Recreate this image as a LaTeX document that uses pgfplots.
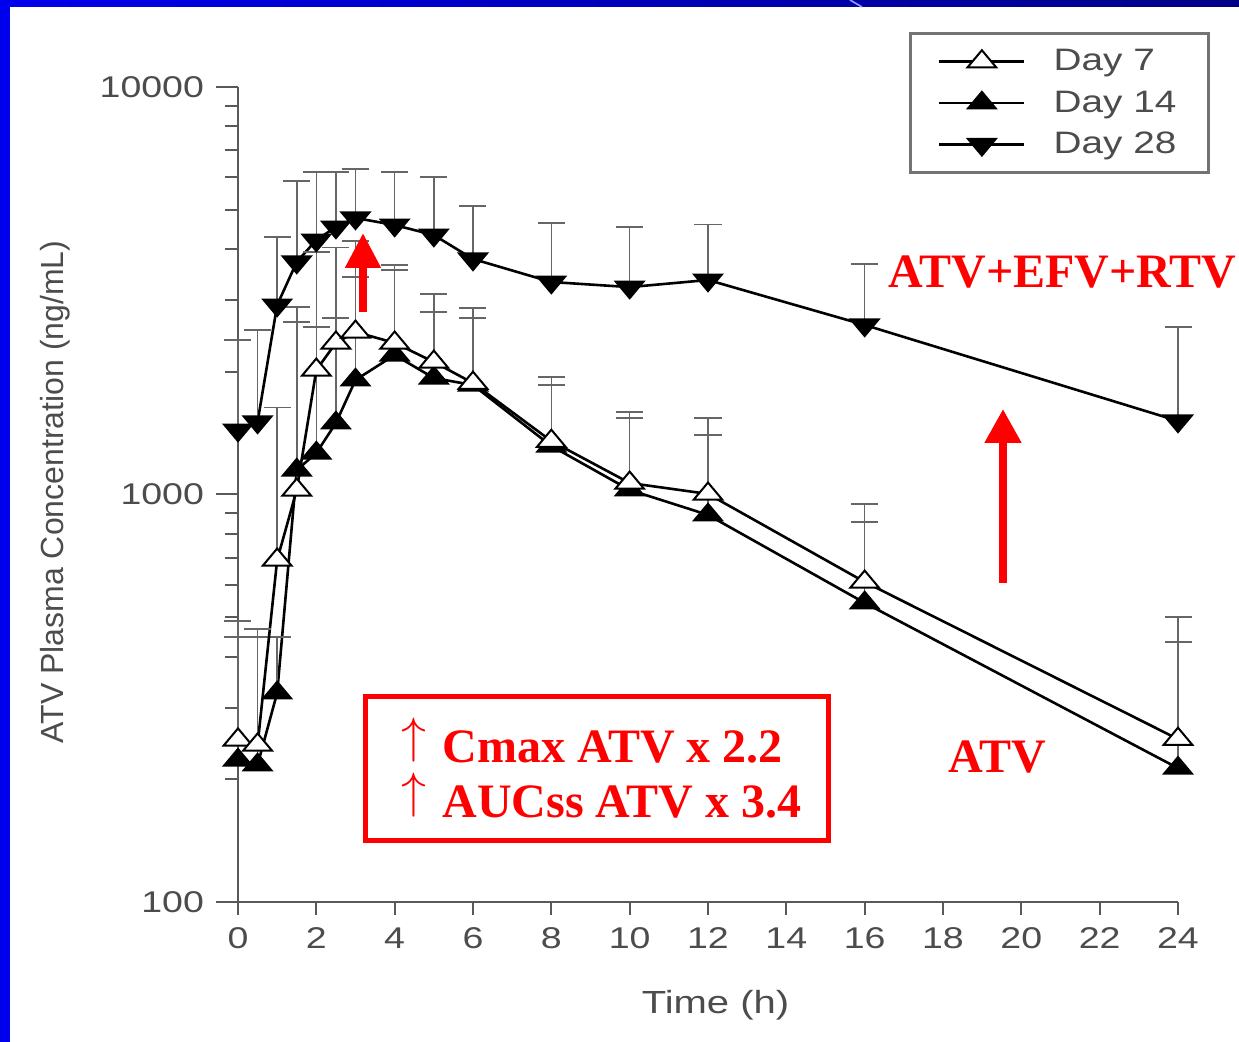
\documentclass[border=0pt]{standalone}
\usepackage{pgfplots}
\pgfplotsset{compat=1.18}
\usepackage{pgfplotstable}
\usepackage{graphicx}
\usepackage{fontspec}
\setmainfont{Liberation Sans}
\newfontfamily\tnr{Liberation Serif}
\usetikzlibrary{arrows.meta}
\newcommand\hs[1]{\scalebox{1.25}[1]{#1}}
\definecolor{slideblue}{RGB}{0,0,238}
\definecolor{slidenavy}{RGB}{0,0,135}

\pgfplotstableread{
t y e
0 250 240
0.5 243 225
1 691 943
1.5 1026 1858
2 2021 1916
2.5 2355 1679
3 2505 1685
4 2355 1302
5 2114 990
6 1877 992
8 1352 589
10 1067 527
12 1003 538
16 610 338
24 251 249
}\daysev

\pgfplotstableread{
t y e
0 223 224
0.5 217 230
1 326 121
1.5 1148 1502
2 1264 1312
2.5 1498 1214
3 1910 1509
4 2199 1358
5 1931 873
6 1856 856
8 1315 543
10 1026 515
12 891 509
16 542 314
24 213 222
}\dayfourteen

\pgfplotstableread{
t y e
0 1439 954
0.5 1507 1026
1 2917 1368
1.5 3721 2153
2 4212 1972
2.5 4532 1652
3 4770 1526
4 4584 1600
5 4331 1679
6 3784 1321
8 3322 1317
10 3228 1304
12 3360 1240
16 2606 1074
24 1515 1062
}\daytwentyeight

\begin{document}
\begin{tikzpicture}
\path[use as bounding box] (0pt,0pt) rectangle (619.5pt,521pt);
\fill[slideblue] (0pt,0pt) rectangle (5pt,521pt);
\shade[left color=slideblue, right color=slidenavy] (0pt,517.5pt) rectangle (619.5pt,521pt);
\draw[line width=0.8pt, blue!40] (425pt,521pt) -- (431pt,517.5pt);
\begin{axis}[
  at={(119pt,70pt)}, anchor=south west,
  scale only axis, width=470pt, height=407.5pt,
  ymode=log, xmin=0, xmax=24, ymin=100, ymax=10000,
  axis lines=left,
  axis line style={-, draw=black!65, line width=1.1pt},
  tick align=outside,
  major tick length=6.5pt, minor tick length=6.5pt,
  tick style={draw=black!65, line width=1pt},
  xtick={0,2,4,6,8,10,12,14,16,18,20,22,24},
  xticklabels={\hs{0},\hs{2},\hs{4},\hs{6},\hs{8},\hs{10},\hs{12},\hs{14},\hs{16},\hs{18},\hs{20},\hs{22},\hs{24}},
  ytick={100,1000,10000},
  yticklabels={\hs{100},\hs{1000},\hs{10000}},
  extra y ticks={100,1000,10000},
  extra y tick labels={},
  extra y tick style={major tick length=11pt},
  ticklabel style={font=\fontsize{15}{18}\selectfont, text=black!70},
  yticklabel style={xshift=-7pt},
  xticklabel style={yshift=-3pt},
  xlabel={\hs{Time (h)}},
  xlabel style={at={(axis description cs:0.508,-0.1264)}, anchor=center, font=\fontsize{16}{19}\selectfont, text=black!70},
  ylabel={ATV Plasma Concentration (ng/mL)},
  ylabel style={at={(axis description cs:-0.1947,0.503)}, anchor=center, font=\fontsize{16}{19}\selectfont, text=black!70},
  clip=false,
  reverse legend,
  legend style={at={(1.034,1.0675)}, anchor=north east, draw=black!55, line width=1.5pt,
    font=\fontsize{15.5}{18}\selectfont, text=black!70, inner xsep=14pt, inner ysep=6pt,
    row sep=4.5pt, cells={anchor=west},
    /tikz/every odd column/.append style={column sep=12pt}},
  legend image code/.code={\draw[mark repeat=2, mark phase=2, #1] plot coordinates {(0pt,0pt) (21.25pt,0pt) (42.5pt,0pt)};},
  error bars/y dir=plus, error bars/y explicit,
  error bars/error bar style={line width=0.8pt, black!60},
  error bars/error mark options={rotate=90, mark size=6.75pt, line width=0.8pt, black!60},
]
\addplot[black, line width=1.3pt, mark=triangle*, mark size=5.7pt,
  mark options={solid, fill=black, rotate=180, xscale=1.45, line width=0.8pt}]
  table[x=t, y=y, y error=e] {\daytwentyeight};
\addlegendentry{\hs{Day 28}}
\addplot[black, line width=1.3pt, mark=triangle*, mark size=5.7pt,
  mark options={solid, fill=black, xscale=1.45, line width=0.8pt}]
  table[x=t, y=y, y error=e] {\dayfourteen};
\addlegendentry{\hs{Day 14}}
\addplot[black, line width=1.3pt, mark=triangle*, mark size=5.7pt,
  mark options={solid, fill=white, draw=black, xscale=1.45, line width=1pt}]
  table[x=t, y=y, y error=e] {\daysev};
\addlegendentry{\hs{Day 7}}
\end{axis}
% red annotations
\draw[red, line width=4pt, -{Triangle[width=17pt, length=17.5pt]}] (181.5pt,365pt) -- (181.5pt,404.5pt);
\draw[red, line width=4pt, -{Triangle[width=17.5pt, length=17pt]}] (501.5pt,229.5pt) -- (501.5pt,316.5pt);
\node[red, anchor=base west, inner sep=0pt, font=\fontsize{24}{28}\selectfont\tnr\bfseries] at (444pt,377pt) {ATV+EFV+RTV};
\node[red, anchor=base west, inner sep=0pt, font=\fontsize{24}{28}\selectfont\tnr\bfseries] at (474pt,134.5pt) {ATV};
\draw[red, line width=2.5pt] (182.5pt,100.5pt) rectangle (414pt,172.5pt);
\node[red, anchor=south west, inner sep=0pt, font=\fontsize{24}{28}\selectfont] at (200.5pt,139.5pt) {$\uparrow$};
\node[red, anchor=base west, inner sep=0pt, font=\fontsize{24}{28}\selectfont\tnr\bfseries] at (221pt,139.5pt) {Cmax ATV x 2.2};
\node[red, anchor=south west, inner sep=0pt, font=\fontsize{24}{28}\selectfont] at (200.5pt,112pt) {$\uparrow$};
\node[red, anchor=base west, inner sep=0pt, font=\fontsize{24}{28}\selectfont\tnr\bfseries] at (221pt,112pt) {AUCss ATV x 3.4};
\end{tikzpicture}
\end{document}
